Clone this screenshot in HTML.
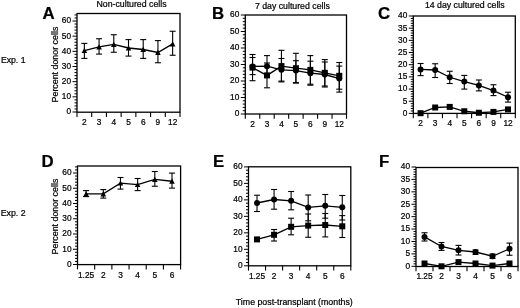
<!DOCTYPE html>
<html><head><meta charset="utf-8"><style>
html,body{margin:0;padding:0;background:#fff;}
svg{display:block;will-change:transform;}
text{font-family:"Liberation Sans", sans-serif;fill:#000;stroke:#000;stroke-width:0.22px;}
</style></head><body>
<svg width="520" height="308" viewBox="0 0 520 308">
<rect width="520" height="308" fill="#fff"/>
<rect x="77" y="13.5" width="103" height="98.7" fill="none" stroke="#000" stroke-width="1.3"/>
<line x1="72.50" y1="112.00" x2="77" y2="112.00" stroke="#000" stroke-width="1"/>
<text x="71.00" y="114.40" font-size="8.3" text-anchor="end">0</text>
<line x1="74.50" y1="108.97" x2="77" y2="108.97" stroke="#000" stroke-width="1"/>
<line x1="74.50" y1="105.93" x2="77" y2="105.93" stroke="#000" stroke-width="1"/>
<line x1="74.50" y1="102.90" x2="77" y2="102.90" stroke="#000" stroke-width="1"/>
<line x1="74.50" y1="99.87" x2="77" y2="99.87" stroke="#000" stroke-width="1"/>
<line x1="72.50" y1="96.83" x2="77" y2="96.83" stroke="#000" stroke-width="1"/>
<text x="71.00" y="99.23" font-size="8.3" text-anchor="end">10</text>
<line x1="74.50" y1="93.80" x2="77" y2="93.80" stroke="#000" stroke-width="1"/>
<line x1="74.50" y1="90.77" x2="77" y2="90.77" stroke="#000" stroke-width="1"/>
<line x1="74.50" y1="87.73" x2="77" y2="87.73" stroke="#000" stroke-width="1"/>
<line x1="74.50" y1="84.70" x2="77" y2="84.70" stroke="#000" stroke-width="1"/>
<line x1="72.50" y1="81.67" x2="77" y2="81.67" stroke="#000" stroke-width="1"/>
<text x="71.00" y="84.07" font-size="8.3" text-anchor="end">20</text>
<line x1="74.50" y1="78.63" x2="77" y2="78.63" stroke="#000" stroke-width="1"/>
<line x1="74.50" y1="75.60" x2="77" y2="75.60" stroke="#000" stroke-width="1"/>
<line x1="74.50" y1="72.57" x2="77" y2="72.57" stroke="#000" stroke-width="1"/>
<line x1="74.50" y1="69.53" x2="77" y2="69.53" stroke="#000" stroke-width="1"/>
<line x1="72.50" y1="66.50" x2="77" y2="66.50" stroke="#000" stroke-width="1"/>
<text x="71.00" y="68.90" font-size="8.3" text-anchor="end">30</text>
<line x1="74.50" y1="63.47" x2="77" y2="63.47" stroke="#000" stroke-width="1"/>
<line x1="74.50" y1="60.43" x2="77" y2="60.43" stroke="#000" stroke-width="1"/>
<line x1="74.50" y1="57.40" x2="77" y2="57.40" stroke="#000" stroke-width="1"/>
<line x1="74.50" y1="54.37" x2="77" y2="54.37" stroke="#000" stroke-width="1"/>
<line x1="72.50" y1="51.33" x2="77" y2="51.33" stroke="#000" stroke-width="1"/>
<text x="71.00" y="53.73" font-size="8.3" text-anchor="end">40</text>
<line x1="74.50" y1="48.30" x2="77" y2="48.30" stroke="#000" stroke-width="1"/>
<line x1="74.50" y1="45.27" x2="77" y2="45.27" stroke="#000" stroke-width="1"/>
<line x1="74.50" y1="42.23" x2="77" y2="42.23" stroke="#000" stroke-width="1"/>
<line x1="74.50" y1="39.20" x2="77" y2="39.20" stroke="#000" stroke-width="1"/>
<line x1="72.50" y1="36.17" x2="77" y2="36.17" stroke="#000" stroke-width="1"/>
<text x="71.00" y="38.57" font-size="8.3" text-anchor="end">50</text>
<line x1="74.50" y1="33.13" x2="77" y2="33.13" stroke="#000" stroke-width="1"/>
<line x1="74.50" y1="30.10" x2="77" y2="30.10" stroke="#000" stroke-width="1"/>
<line x1="74.50" y1="27.07" x2="77" y2="27.07" stroke="#000" stroke-width="1"/>
<line x1="74.50" y1="24.03" x2="77" y2="24.03" stroke="#000" stroke-width="1"/>
<line x1="72.50" y1="21.00" x2="77" y2="21.00" stroke="#000" stroke-width="1"/>
<text x="71.00" y="23.40" font-size="8.3" text-anchor="end">60</text>
<line x1="74.50" y1="17.97" x2="77" y2="17.97" stroke="#000" stroke-width="1"/>
<line x1="74.50" y1="14.93" x2="77" y2="14.93" stroke="#000" stroke-width="1"/>
<line x1="77.00" y1="112.2" x2="77.00" y2="117.0" stroke="#000" stroke-width="1.1"/>
<line x1="91.71" y1="112.2" x2="91.71" y2="117.0" stroke="#000" stroke-width="1.1"/>
<line x1="106.43" y1="112.2" x2="106.43" y2="117.0" stroke="#000" stroke-width="1.1"/>
<line x1="121.14" y1="112.2" x2="121.14" y2="117.0" stroke="#000" stroke-width="1.1"/>
<line x1="135.86" y1="112.2" x2="135.86" y2="117.0" stroke="#000" stroke-width="1.1"/>
<line x1="150.57" y1="112.2" x2="150.57" y2="117.0" stroke="#000" stroke-width="1.1"/>
<line x1="165.29" y1="112.2" x2="165.29" y2="117.0" stroke="#000" stroke-width="1.1"/>
<line x1="180.00" y1="112.2" x2="180.00" y2="117.0" stroke="#000" stroke-width="1.1"/>
<text x="84.36" y="125.10" font-size="8.3" text-anchor="middle">2</text>
<text x="99.07" y="125.10" font-size="8.3" text-anchor="middle">3</text>
<text x="113.79" y="125.10" font-size="8.3" text-anchor="middle">4</text>
<text x="128.50" y="125.10" font-size="8.3" text-anchor="middle">5</text>
<text x="143.21" y="125.10" font-size="8.3" text-anchor="middle">6</text>
<text x="157.93" y="125.10" font-size="8.3" text-anchor="middle">9</text>
<text x="172.64" y="125.10" font-size="8.3" text-anchor="middle">12</text>
<line x1="84.36" y1="43.4" x2="84.36" y2="58.4" stroke="#000" stroke-width="1.1"/>
<line x1="81.36" y1="43.4" x2="87.36" y2="43.4" stroke="#000" stroke-width="1.1"/>
<line x1="81.36" y1="58.4" x2="87.36" y2="58.4" stroke="#000" stroke-width="1.1"/>
<line x1="99.07" y1="38.75" x2="99.07" y2="54.1" stroke="#000" stroke-width="1.1"/>
<line x1="96.07" y1="38.75" x2="102.07" y2="38.75" stroke="#000" stroke-width="1.1"/>
<line x1="96.07" y1="54.1" x2="102.07" y2="54.1" stroke="#000" stroke-width="1.1"/>
<line x1="113.79" y1="34.75" x2="113.79" y2="52.25" stroke="#000" stroke-width="1.1"/>
<line x1="110.79" y1="34.75" x2="116.79" y2="34.75" stroke="#000" stroke-width="1.1"/>
<line x1="110.79" y1="52.25" x2="116.79" y2="52.25" stroke="#000" stroke-width="1.1"/>
<line x1="128.50" y1="39.6" x2="128.50" y2="56.1" stroke="#000" stroke-width="1.1"/>
<line x1="125.50" y1="39.6" x2="131.50" y2="39.6" stroke="#000" stroke-width="1.1"/>
<line x1="125.50" y1="56.1" x2="131.50" y2="56.1" stroke="#000" stroke-width="1.1"/>
<line x1="143.21" y1="39.6" x2="143.21" y2="58.4" stroke="#000" stroke-width="1.1"/>
<line x1="140.21" y1="39.6" x2="146.21" y2="39.6" stroke="#000" stroke-width="1.1"/>
<line x1="140.21" y1="58.4" x2="146.21" y2="58.4" stroke="#000" stroke-width="1.1"/>
<line x1="157.93" y1="40.6" x2="157.93" y2="62.75" stroke="#000" stroke-width="1.1"/>
<line x1="154.93" y1="40.6" x2="160.93" y2="40.6" stroke="#000" stroke-width="1.1"/>
<line x1="154.93" y1="62.75" x2="160.93" y2="62.75" stroke="#000" stroke-width="1.1"/>
<line x1="172.64" y1="31.25" x2="172.64" y2="55.25" stroke="#000" stroke-width="1.1"/>
<line x1="169.64" y1="31.25" x2="175.64" y2="31.25" stroke="#000" stroke-width="1.1"/>
<line x1="169.64" y1="55.25" x2="175.64" y2="55.25" stroke="#000" stroke-width="1.1"/>
<polyline points="84.36,50.6 99.07,46.9 113.79,44.4 128.50,48.0 143.21,49.5 157.93,52.5 172.64,43.9" fill="none" stroke="#000" stroke-width="1.3"/>
<polygon points="84.36,47.90 87.16,53.10 81.56,53.10" fill="#000"/>
<polygon points="99.07,44.20 101.87,49.40 96.27,49.40" fill="#000"/>
<polygon points="113.79,41.70 116.59,46.90 110.99,46.90" fill="#000"/>
<polygon points="128.50,45.30 131.30,50.50 125.70,50.50" fill="#000"/>
<polygon points="143.21,46.80 146.01,52.00 140.41,52.00" fill="#000"/>
<polygon points="157.93,49.80 160.73,55.00 155.13,55.00" fill="#000"/>
<polygon points="172.64,41.20 175.44,46.40 169.84,46.40" fill="#000"/>
<rect x="245.3" y="15.0" width="101.19999999999999" height="99.0" fill="none" stroke="#000" stroke-width="1.3"/>
<line x1="240.80" y1="114.00" x2="245.3" y2="114.00" stroke="#000" stroke-width="1"/>
<text x="239.30" y="116.40" font-size="8.3" text-anchor="end">0</text>
<line x1="242.80" y1="110.70" x2="245.3" y2="110.70" stroke="#000" stroke-width="1"/>
<line x1="242.80" y1="107.40" x2="245.3" y2="107.40" stroke="#000" stroke-width="1"/>
<line x1="242.80" y1="104.10" x2="245.3" y2="104.10" stroke="#000" stroke-width="1"/>
<line x1="242.80" y1="100.80" x2="245.3" y2="100.80" stroke="#000" stroke-width="1"/>
<line x1="240.80" y1="97.50" x2="245.3" y2="97.50" stroke="#000" stroke-width="1"/>
<text x="239.30" y="99.90" font-size="8.3" text-anchor="end">10</text>
<line x1="242.80" y1="94.20" x2="245.3" y2="94.20" stroke="#000" stroke-width="1"/>
<line x1="242.80" y1="90.90" x2="245.3" y2="90.90" stroke="#000" stroke-width="1"/>
<line x1="242.80" y1="87.60" x2="245.3" y2="87.60" stroke="#000" stroke-width="1"/>
<line x1="242.80" y1="84.30" x2="245.3" y2="84.30" stroke="#000" stroke-width="1"/>
<line x1="240.80" y1="81.00" x2="245.3" y2="81.00" stroke="#000" stroke-width="1"/>
<text x="239.30" y="83.40" font-size="8.3" text-anchor="end">20</text>
<line x1="242.80" y1="77.70" x2="245.3" y2="77.70" stroke="#000" stroke-width="1"/>
<line x1="242.80" y1="74.40" x2="245.3" y2="74.40" stroke="#000" stroke-width="1"/>
<line x1="242.80" y1="71.10" x2="245.3" y2="71.10" stroke="#000" stroke-width="1"/>
<line x1="242.80" y1="67.80" x2="245.3" y2="67.80" stroke="#000" stroke-width="1"/>
<line x1="240.80" y1="64.50" x2="245.3" y2="64.50" stroke="#000" stroke-width="1"/>
<text x="239.30" y="66.90" font-size="8.3" text-anchor="end">30</text>
<line x1="242.80" y1="61.20" x2="245.3" y2="61.20" stroke="#000" stroke-width="1"/>
<line x1="242.80" y1="57.90" x2="245.3" y2="57.90" stroke="#000" stroke-width="1"/>
<line x1="242.80" y1="54.60" x2="245.3" y2="54.60" stroke="#000" stroke-width="1"/>
<line x1="242.80" y1="51.30" x2="245.3" y2="51.30" stroke="#000" stroke-width="1"/>
<line x1="240.80" y1="48.00" x2="245.3" y2="48.00" stroke="#000" stroke-width="1"/>
<text x="239.30" y="50.40" font-size="8.3" text-anchor="end">40</text>
<line x1="242.80" y1="44.70" x2="245.3" y2="44.70" stroke="#000" stroke-width="1"/>
<line x1="242.80" y1="41.40" x2="245.3" y2="41.40" stroke="#000" stroke-width="1"/>
<line x1="242.80" y1="38.10" x2="245.3" y2="38.10" stroke="#000" stroke-width="1"/>
<line x1="242.80" y1="34.80" x2="245.3" y2="34.80" stroke="#000" stroke-width="1"/>
<line x1="240.80" y1="31.50" x2="245.3" y2="31.50" stroke="#000" stroke-width="1"/>
<text x="239.30" y="33.90" font-size="8.3" text-anchor="end">50</text>
<line x1="242.80" y1="28.20" x2="245.3" y2="28.20" stroke="#000" stroke-width="1"/>
<line x1="242.80" y1="24.90" x2="245.3" y2="24.90" stroke="#000" stroke-width="1"/>
<line x1="242.80" y1="21.60" x2="245.3" y2="21.60" stroke="#000" stroke-width="1"/>
<line x1="242.80" y1="18.30" x2="245.3" y2="18.30" stroke="#000" stroke-width="1"/>
<line x1="240.80" y1="15.00" x2="245.3" y2="15.00" stroke="#000" stroke-width="1"/>
<text x="239.30" y="17.40" font-size="8.3" text-anchor="end">60</text>
<line x1="245.30" y1="114.0" x2="245.30" y2="118.8" stroke="#000" stroke-width="1.1"/>
<line x1="259.76" y1="114.0" x2="259.76" y2="118.8" stroke="#000" stroke-width="1.1"/>
<line x1="274.21" y1="114.0" x2="274.21" y2="118.8" stroke="#000" stroke-width="1.1"/>
<line x1="288.67" y1="114.0" x2="288.67" y2="118.8" stroke="#000" stroke-width="1.1"/>
<line x1="303.13" y1="114.0" x2="303.13" y2="118.8" stroke="#000" stroke-width="1.1"/>
<line x1="317.59" y1="114.0" x2="317.59" y2="118.8" stroke="#000" stroke-width="1.1"/>
<line x1="332.04" y1="114.0" x2="332.04" y2="118.8" stroke="#000" stroke-width="1.1"/>
<line x1="346.50" y1="114.0" x2="346.50" y2="118.8" stroke="#000" stroke-width="1.1"/>
<text x="252.53" y="126.90" font-size="8.3" text-anchor="middle">2</text>
<text x="266.99" y="126.90" font-size="8.3" text-anchor="middle">3</text>
<text x="281.44" y="126.90" font-size="8.3" text-anchor="middle">4</text>
<text x="295.90" y="126.90" font-size="8.3" text-anchor="middle">5</text>
<text x="310.36" y="126.90" font-size="8.3" text-anchor="middle">6</text>
<text x="324.81" y="126.90" font-size="8.3" text-anchor="middle">9</text>
<text x="339.27" y="126.90" font-size="8.3" text-anchor="middle">12</text>
<line x1="252.53" y1="54.5" x2="252.53" y2="80.7" stroke="#000" stroke-width="1.1"/>
<line x1="249.53" y1="54.5" x2="255.53" y2="54.5" stroke="#000" stroke-width="1.1"/>
<line x1="249.53" y1="80.7" x2="255.53" y2="80.7" stroke="#000" stroke-width="1.1"/>
<line x1="266.99" y1="63.0" x2="266.99" y2="87.8" stroke="#000" stroke-width="1.1"/>
<line x1="263.99" y1="63.0" x2="269.99" y2="63.0" stroke="#000" stroke-width="1.1"/>
<line x1="263.99" y1="87.8" x2="269.99" y2="87.8" stroke="#000" stroke-width="1.1"/>
<line x1="281.44" y1="50.3" x2="281.44" y2="81.9" stroke="#000" stroke-width="1.1"/>
<line x1="278.44" y1="50.3" x2="284.44" y2="50.3" stroke="#000" stroke-width="1.1"/>
<line x1="278.44" y1="81.9" x2="284.44" y2="81.9" stroke="#000" stroke-width="1.1"/>
<line x1="295.90" y1="53.3" x2="295.90" y2="83.1" stroke="#000" stroke-width="1.1"/>
<line x1="292.90" y1="53.3" x2="298.90" y2="53.3" stroke="#000" stroke-width="1.1"/>
<line x1="292.90" y1="83.1" x2="298.90" y2="83.1" stroke="#000" stroke-width="1.1"/>
<line x1="310.36" y1="55.6" x2="310.36" y2="84.2" stroke="#000" stroke-width="1.1"/>
<line x1="307.36" y1="55.6" x2="313.36" y2="55.6" stroke="#000" stroke-width="1.1"/>
<line x1="307.36" y1="84.2" x2="313.36" y2="84.2" stroke="#000" stroke-width="1.1"/>
<line x1="324.81" y1="59.6" x2="324.81" y2="86.0" stroke="#000" stroke-width="1.1"/>
<line x1="321.81" y1="59.6" x2="327.81" y2="59.6" stroke="#000" stroke-width="1.1"/>
<line x1="321.81" y1="86.0" x2="327.81" y2="86.0" stroke="#000" stroke-width="1.1"/>
<line x1="339.27" y1="62.5" x2="339.27" y2="89.2" stroke="#000" stroke-width="1.1"/>
<line x1="336.27" y1="62.5" x2="342.27" y2="62.5" stroke="#000" stroke-width="1.1"/>
<line x1="336.27" y1="89.2" x2="342.27" y2="89.2" stroke="#000" stroke-width="1.1"/>
<line x1="252.53" y1="57.5" x2="252.53" y2="74.6" stroke="#000" stroke-width="1.1"/>
<line x1="249.53" y1="57.5" x2="255.53" y2="57.5" stroke="#000" stroke-width="1.1"/>
<line x1="249.53" y1="74.6" x2="255.53" y2="74.6" stroke="#000" stroke-width="1.1"/>
<line x1="266.99" y1="55.6" x2="266.99" y2="76.8" stroke="#000" stroke-width="1.1"/>
<line x1="263.99" y1="55.6" x2="269.99" y2="55.6" stroke="#000" stroke-width="1.1"/>
<line x1="263.99" y1="76.8" x2="269.99" y2="76.8" stroke="#000" stroke-width="1.1"/>
<line x1="281.44" y1="58.5" x2="281.44" y2="81.1" stroke="#000" stroke-width="1.1"/>
<line x1="278.44" y1="58.5" x2="284.44" y2="58.5" stroke="#000" stroke-width="1.1"/>
<line x1="278.44" y1="81.1" x2="284.44" y2="81.1" stroke="#000" stroke-width="1.1"/>
<line x1="295.90" y1="60.7" x2="295.90" y2="82.6" stroke="#000" stroke-width="1.1"/>
<line x1="292.90" y1="60.7" x2="298.90" y2="60.7" stroke="#000" stroke-width="1.1"/>
<line x1="292.90" y1="82.6" x2="298.90" y2="82.6" stroke="#000" stroke-width="1.1"/>
<line x1="310.36" y1="61.2" x2="310.36" y2="85.2" stroke="#000" stroke-width="1.1"/>
<line x1="307.36" y1="61.2" x2="313.36" y2="61.2" stroke="#000" stroke-width="1.1"/>
<line x1="307.36" y1="85.2" x2="313.36" y2="85.2" stroke="#000" stroke-width="1.1"/>
<line x1="324.81" y1="62.0" x2="324.81" y2="87.0" stroke="#000" stroke-width="1.1"/>
<line x1="321.81" y1="62.0" x2="327.81" y2="62.0" stroke="#000" stroke-width="1.1"/>
<line x1="321.81" y1="87.0" x2="327.81" y2="87.0" stroke="#000" stroke-width="1.1"/>
<line x1="339.27" y1="66.1" x2="339.27" y2="92.1" stroke="#000" stroke-width="1.1"/>
<line x1="336.27" y1="66.1" x2="342.27" y2="66.1" stroke="#000" stroke-width="1.1"/>
<line x1="336.27" y1="92.1" x2="342.27" y2="92.1" stroke="#000" stroke-width="1.1"/>
<polyline points="252.53,67.6 266.99,75.4 281.44,66.1 295.90,68.2 310.36,69.9 324.81,72.8 339.27,75.8" fill="none" stroke="#000" stroke-width="1.3"/>
<polyline points="252.53,66.5 266.99,66.2 281.44,69.8 295.90,70.6 310.36,73.2 324.81,74.5 339.27,78.6" fill="none" stroke="#000" stroke-width="1.3"/>
<rect x="249.53" y="64.60" width="6.0" height="6.0" fill="#000"/>
<rect x="263.99" y="72.40" width="6.0" height="6.0" fill="#000"/>
<rect x="278.44" y="63.10" width="6.0" height="6.0" fill="#000"/>
<rect x="292.90" y="65.20" width="6.0" height="6.0" fill="#000"/>
<rect x="307.36" y="66.90" width="6.0" height="6.0" fill="#000"/>
<rect x="321.81" y="69.80" width="6.0" height="6.0" fill="#000"/>
<rect x="336.27" y="72.80" width="6.0" height="6.0" fill="#000"/>
<circle cx="252.53" cy="66.5" r="3.00" fill="#000"/>
<circle cx="266.99" cy="66.2" r="3.00" fill="#000"/>
<circle cx="281.44" cy="69.8" r="3.00" fill="#000"/>
<circle cx="295.90" cy="70.6" r="3.00" fill="#000"/>
<circle cx="310.36" cy="73.2" r="3.00" fill="#000"/>
<circle cx="324.81" cy="74.5" r="3.00" fill="#000"/>
<circle cx="339.27" cy="78.6" r="3.00" fill="#000"/>
<rect x="413.3" y="16.0" width="101.99999999999994" height="97.4" fill="none" stroke="#000" stroke-width="1.3"/>
<line x1="408.80" y1="113.40" x2="413.3" y2="113.40" stroke="#000" stroke-width="1"/>
<text x="407.30" y="115.80" font-size="8.3" text-anchor="end">0</text>
<line x1="410.80" y1="110.97" x2="413.3" y2="110.97" stroke="#000" stroke-width="1"/>
<line x1="410.80" y1="108.53" x2="413.3" y2="108.53" stroke="#000" stroke-width="1"/>
<line x1="410.80" y1="106.09" x2="413.3" y2="106.09" stroke="#000" stroke-width="1"/>
<line x1="410.80" y1="103.66" x2="413.3" y2="103.66" stroke="#000" stroke-width="1"/>
<line x1="408.80" y1="101.23" x2="413.3" y2="101.23" stroke="#000" stroke-width="1"/>
<text x="407.30" y="103.63" font-size="8.3" text-anchor="end">5</text>
<line x1="410.80" y1="98.79" x2="413.3" y2="98.79" stroke="#000" stroke-width="1"/>
<line x1="410.80" y1="96.36" x2="413.3" y2="96.36" stroke="#000" stroke-width="1"/>
<line x1="410.80" y1="93.92" x2="413.3" y2="93.92" stroke="#000" stroke-width="1"/>
<line x1="410.80" y1="91.49" x2="413.3" y2="91.49" stroke="#000" stroke-width="1"/>
<line x1="408.80" y1="89.05" x2="413.3" y2="89.05" stroke="#000" stroke-width="1"/>
<text x="407.30" y="91.45" font-size="8.3" text-anchor="end">10</text>
<line x1="410.80" y1="86.62" x2="413.3" y2="86.62" stroke="#000" stroke-width="1"/>
<line x1="410.80" y1="84.18" x2="413.3" y2="84.18" stroke="#000" stroke-width="1"/>
<line x1="410.80" y1="81.75" x2="413.3" y2="81.75" stroke="#000" stroke-width="1"/>
<line x1="410.80" y1="79.31" x2="413.3" y2="79.31" stroke="#000" stroke-width="1"/>
<line x1="408.80" y1="76.88" x2="413.3" y2="76.88" stroke="#000" stroke-width="1"/>
<text x="407.30" y="79.28" font-size="8.3" text-anchor="end">15</text>
<line x1="410.80" y1="74.44" x2="413.3" y2="74.44" stroke="#000" stroke-width="1"/>
<line x1="410.80" y1="72.00" x2="413.3" y2="72.00" stroke="#000" stroke-width="1"/>
<line x1="410.80" y1="69.57" x2="413.3" y2="69.57" stroke="#000" stroke-width="1"/>
<line x1="410.80" y1="67.14" x2="413.3" y2="67.14" stroke="#000" stroke-width="1"/>
<line x1="408.80" y1="64.70" x2="413.3" y2="64.70" stroke="#000" stroke-width="1"/>
<text x="407.30" y="67.10" font-size="8.3" text-anchor="end">20</text>
<line x1="410.80" y1="62.27" x2="413.3" y2="62.27" stroke="#000" stroke-width="1"/>
<line x1="410.80" y1="59.83" x2="413.3" y2="59.83" stroke="#000" stroke-width="1"/>
<line x1="410.80" y1="57.40" x2="413.3" y2="57.40" stroke="#000" stroke-width="1"/>
<line x1="410.80" y1="54.96" x2="413.3" y2="54.96" stroke="#000" stroke-width="1"/>
<line x1="408.80" y1="52.53" x2="413.3" y2="52.53" stroke="#000" stroke-width="1"/>
<text x="407.30" y="54.93" font-size="8.3" text-anchor="end">25</text>
<line x1="410.80" y1="50.09" x2="413.3" y2="50.09" stroke="#000" stroke-width="1"/>
<line x1="410.80" y1="47.66" x2="413.3" y2="47.66" stroke="#000" stroke-width="1"/>
<line x1="410.80" y1="45.22" x2="413.3" y2="45.22" stroke="#000" stroke-width="1"/>
<line x1="410.80" y1="42.79" x2="413.3" y2="42.79" stroke="#000" stroke-width="1"/>
<line x1="408.80" y1="40.35" x2="413.3" y2="40.35" stroke="#000" stroke-width="1"/>
<text x="407.30" y="42.75" font-size="8.3" text-anchor="end">30</text>
<line x1="410.80" y1="37.92" x2="413.3" y2="37.92" stroke="#000" stroke-width="1"/>
<line x1="410.80" y1="35.48" x2="413.3" y2="35.48" stroke="#000" stroke-width="1"/>
<line x1="410.80" y1="33.05" x2="413.3" y2="33.05" stroke="#000" stroke-width="1"/>
<line x1="410.80" y1="30.61" x2="413.3" y2="30.61" stroke="#000" stroke-width="1"/>
<line x1="408.80" y1="28.17" x2="413.3" y2="28.17" stroke="#000" stroke-width="1"/>
<text x="407.30" y="30.57" font-size="8.3" text-anchor="end">35</text>
<line x1="410.80" y1="25.74" x2="413.3" y2="25.74" stroke="#000" stroke-width="1"/>
<line x1="410.80" y1="23.31" x2="413.3" y2="23.31" stroke="#000" stroke-width="1"/>
<line x1="410.80" y1="20.87" x2="413.3" y2="20.87" stroke="#000" stroke-width="1"/>
<line x1="410.80" y1="18.44" x2="413.3" y2="18.44" stroke="#000" stroke-width="1"/>
<line x1="408.80" y1="16.00" x2="413.3" y2="16.00" stroke="#000" stroke-width="1"/>
<text x="407.30" y="18.40" font-size="8.3" text-anchor="end">40</text>
<line x1="413.30" y1="113.4" x2="413.30" y2="118.2" stroke="#000" stroke-width="1.1"/>
<line x1="427.87" y1="113.4" x2="427.87" y2="118.2" stroke="#000" stroke-width="1.1"/>
<line x1="442.44" y1="113.4" x2="442.44" y2="118.2" stroke="#000" stroke-width="1.1"/>
<line x1="457.01" y1="113.4" x2="457.01" y2="118.2" stroke="#000" stroke-width="1.1"/>
<line x1="471.59" y1="113.4" x2="471.59" y2="118.2" stroke="#000" stroke-width="1.1"/>
<line x1="486.16" y1="113.4" x2="486.16" y2="118.2" stroke="#000" stroke-width="1.1"/>
<line x1="500.73" y1="113.4" x2="500.73" y2="118.2" stroke="#000" stroke-width="1.1"/>
<line x1="515.30" y1="113.4" x2="515.30" y2="118.2" stroke="#000" stroke-width="1.1"/>
<text x="420.59" y="126.30" font-size="8.3" text-anchor="middle">2</text>
<text x="435.16" y="126.30" font-size="8.3" text-anchor="middle">3</text>
<text x="449.73" y="126.30" font-size="8.3" text-anchor="middle">4</text>
<text x="464.30" y="126.30" font-size="8.3" text-anchor="middle">5</text>
<text x="478.87" y="126.30" font-size="8.3" text-anchor="middle">6</text>
<text x="493.44" y="126.30" font-size="8.3" text-anchor="middle">9</text>
<text x="508.01" y="126.30" font-size="8.3" text-anchor="middle">12</text>
<line x1="420.59" y1="63.5" x2="420.59" y2="75.6" stroke="#000" stroke-width="1.1"/>
<line x1="417.59" y1="63.5" x2="423.59" y2="63.5" stroke="#000" stroke-width="1.1"/>
<line x1="417.59" y1="75.6" x2="423.59" y2="75.6" stroke="#000" stroke-width="1.1"/>
<line x1="435.16" y1="63.75" x2="435.16" y2="77.5" stroke="#000" stroke-width="1.1"/>
<line x1="432.16" y1="63.75" x2="438.16" y2="63.75" stroke="#000" stroke-width="1.1"/>
<line x1="432.16" y1="77.5" x2="438.16" y2="77.5" stroke="#000" stroke-width="1.1"/>
<line x1="449.73" y1="71.25" x2="449.73" y2="83.5" stroke="#000" stroke-width="1.1"/>
<line x1="446.73" y1="71.25" x2="452.73" y2="71.25" stroke="#000" stroke-width="1.1"/>
<line x1="446.73" y1="83.5" x2="452.73" y2="83.5" stroke="#000" stroke-width="1.1"/>
<line x1="464.30" y1="75.4" x2="464.30" y2="89.1" stroke="#000" stroke-width="1.1"/>
<line x1="461.30" y1="75.4" x2="467.30" y2="75.4" stroke="#000" stroke-width="1.1"/>
<line x1="461.30" y1="89.1" x2="467.30" y2="89.1" stroke="#000" stroke-width="1.1"/>
<line x1="478.87" y1="80.0" x2="478.87" y2="90.9" stroke="#000" stroke-width="1.1"/>
<line x1="475.87" y1="80.0" x2="481.87" y2="80.0" stroke="#000" stroke-width="1.1"/>
<line x1="475.87" y1="90.9" x2="481.87" y2="90.9" stroke="#000" stroke-width="1.1"/>
<line x1="493.44" y1="84.75" x2="493.44" y2="95.6" stroke="#000" stroke-width="1.1"/>
<line x1="490.44" y1="84.75" x2="496.44" y2="84.75" stroke="#000" stroke-width="1.1"/>
<line x1="490.44" y1="95.6" x2="496.44" y2="95.6" stroke="#000" stroke-width="1.1"/>
<line x1="508.01" y1="92.25" x2="508.01" y2="102.1" stroke="#000" stroke-width="1.1"/>
<line x1="505.01" y1="92.25" x2="511.01" y2="92.25" stroke="#000" stroke-width="1.1"/>
<line x1="505.01" y1="102.1" x2="511.01" y2="102.1" stroke="#000" stroke-width="1.1"/>
<polyline points="420.59,69.4 435.16,70.0 449.73,77.25 464.30,81.6 478.87,85.4 493.44,90.6 508.01,97.25" fill="none" stroke="#000" stroke-width="1.3"/>
<polyline points="420.59,113.2 435.16,107.5 449.73,106.9 464.30,111.25 478.87,112.75 493.44,111.9 508.01,109.4" fill="none" stroke="#000" stroke-width="1.3"/>
<circle cx="420.59" cy="69.4" r="3.00" fill="#000"/>
<circle cx="435.16" cy="70.0" r="3.00" fill="#000"/>
<circle cx="449.73" cy="77.25" r="3.00" fill="#000"/>
<circle cx="464.30" cy="81.6" r="3.00" fill="#000"/>
<circle cx="478.87" cy="85.4" r="3.00" fill="#000"/>
<circle cx="493.44" cy="90.6" r="3.00" fill="#000"/>
<circle cx="508.01" cy="97.25" r="3.00" fill="#000"/>
<rect x="417.59" y="110.20" width="6.0" height="6.0" fill="#000"/>
<rect x="432.16" y="104.50" width="6.0" height="6.0" fill="#000"/>
<rect x="446.73" y="103.90" width="6.0" height="6.0" fill="#000"/>
<rect x="461.30" y="108.25" width="6.0" height="6.0" fill="#000"/>
<rect x="475.87" y="109.75" width="6.0" height="6.0" fill="#000"/>
<rect x="490.44" y="108.90" width="6.0" height="6.0" fill="#000"/>
<rect x="505.01" y="106.40" width="6.0" height="6.0" fill="#000"/>
<rect x="77.5" y="166.0" width="103.1" height="98.60000000000002" fill="none" stroke="#000" stroke-width="1.3"/>
<line x1="73.00" y1="264.50" x2="77.5" y2="264.50" stroke="#000" stroke-width="1"/>
<text x="71.50" y="266.90" font-size="8.3" text-anchor="end">0</text>
<line x1="75.00" y1="261.45" x2="77.5" y2="261.45" stroke="#000" stroke-width="1"/>
<line x1="75.00" y1="258.40" x2="77.5" y2="258.40" stroke="#000" stroke-width="1"/>
<line x1="75.00" y1="255.35" x2="77.5" y2="255.35" stroke="#000" stroke-width="1"/>
<line x1="75.00" y1="252.30" x2="77.5" y2="252.30" stroke="#000" stroke-width="1"/>
<line x1="73.00" y1="249.25" x2="77.5" y2="249.25" stroke="#000" stroke-width="1"/>
<text x="71.50" y="251.65" font-size="8.3" text-anchor="end">10</text>
<line x1="75.00" y1="246.20" x2="77.5" y2="246.20" stroke="#000" stroke-width="1"/>
<line x1="75.00" y1="243.15" x2="77.5" y2="243.15" stroke="#000" stroke-width="1"/>
<line x1="75.00" y1="240.10" x2="77.5" y2="240.10" stroke="#000" stroke-width="1"/>
<line x1="75.00" y1="237.05" x2="77.5" y2="237.05" stroke="#000" stroke-width="1"/>
<line x1="73.00" y1="234.00" x2="77.5" y2="234.00" stroke="#000" stroke-width="1"/>
<text x="71.50" y="236.40" font-size="8.3" text-anchor="end">20</text>
<line x1="75.00" y1="230.95" x2="77.5" y2="230.95" stroke="#000" stroke-width="1"/>
<line x1="75.00" y1="227.90" x2="77.5" y2="227.90" stroke="#000" stroke-width="1"/>
<line x1="75.00" y1="224.85" x2="77.5" y2="224.85" stroke="#000" stroke-width="1"/>
<line x1="75.00" y1="221.80" x2="77.5" y2="221.80" stroke="#000" stroke-width="1"/>
<line x1="73.00" y1="218.75" x2="77.5" y2="218.75" stroke="#000" stroke-width="1"/>
<text x="71.50" y="221.15" font-size="8.3" text-anchor="end">30</text>
<line x1="75.00" y1="215.70" x2="77.5" y2="215.70" stroke="#000" stroke-width="1"/>
<line x1="75.00" y1="212.65" x2="77.5" y2="212.65" stroke="#000" stroke-width="1"/>
<line x1="75.00" y1="209.60" x2="77.5" y2="209.60" stroke="#000" stroke-width="1"/>
<line x1="75.00" y1="206.55" x2="77.5" y2="206.55" stroke="#000" stroke-width="1"/>
<line x1="73.00" y1="203.50" x2="77.5" y2="203.50" stroke="#000" stroke-width="1"/>
<text x="71.50" y="205.90" font-size="8.3" text-anchor="end">40</text>
<line x1="75.00" y1="200.45" x2="77.5" y2="200.45" stroke="#000" stroke-width="1"/>
<line x1="75.00" y1="197.40" x2="77.5" y2="197.40" stroke="#000" stroke-width="1"/>
<line x1="75.00" y1="194.35" x2="77.5" y2="194.35" stroke="#000" stroke-width="1"/>
<line x1="75.00" y1="191.30" x2="77.5" y2="191.30" stroke="#000" stroke-width="1"/>
<line x1="73.00" y1="188.25" x2="77.5" y2="188.25" stroke="#000" stroke-width="1"/>
<text x="71.50" y="190.65" font-size="8.3" text-anchor="end">50</text>
<line x1="75.00" y1="185.20" x2="77.5" y2="185.20" stroke="#000" stroke-width="1"/>
<line x1="75.00" y1="182.15" x2="77.5" y2="182.15" stroke="#000" stroke-width="1"/>
<line x1="75.00" y1="179.10" x2="77.5" y2="179.10" stroke="#000" stroke-width="1"/>
<line x1="75.00" y1="176.05" x2="77.5" y2="176.05" stroke="#000" stroke-width="1"/>
<line x1="73.00" y1="173.00" x2="77.5" y2="173.00" stroke="#000" stroke-width="1"/>
<text x="71.50" y="175.40" font-size="8.3" text-anchor="end">60</text>
<line x1="75.00" y1="169.95" x2="77.5" y2="169.95" stroke="#000" stroke-width="1"/>
<line x1="75.00" y1="166.90" x2="77.5" y2="166.90" stroke="#000" stroke-width="1"/>
<line x1="77.50" y1="264.6" x2="77.50" y2="269.40000000000003" stroke="#000" stroke-width="1.1"/>
<line x1="94.68" y1="264.6" x2="94.68" y2="269.40000000000003" stroke="#000" stroke-width="1.1"/>
<line x1="111.87" y1="264.6" x2="111.87" y2="269.40000000000003" stroke="#000" stroke-width="1.1"/>
<line x1="129.05" y1="264.6" x2="129.05" y2="269.40000000000003" stroke="#000" stroke-width="1.1"/>
<line x1="146.23" y1="264.6" x2="146.23" y2="269.40000000000003" stroke="#000" stroke-width="1.1"/>
<line x1="163.42" y1="264.6" x2="163.42" y2="269.40000000000003" stroke="#000" stroke-width="1.1"/>
<line x1="180.60" y1="264.6" x2="180.60" y2="269.40000000000003" stroke="#000" stroke-width="1.1"/>
<text x="86.09" y="277.50" font-size="8.3" text-anchor="middle">1.25</text>
<text x="103.28" y="277.50" font-size="8.3" text-anchor="middle">2</text>
<text x="120.46" y="277.50" font-size="8.3" text-anchor="middle">3</text>
<text x="137.64" y="277.50" font-size="8.3" text-anchor="middle">4</text>
<text x="154.82" y="277.50" font-size="8.3" text-anchor="middle">5</text>
<text x="172.01" y="277.50" font-size="8.3" text-anchor="middle">6</text>
<line x1="86.09" y1="190.6" x2="86.09" y2="196.6" stroke="#000" stroke-width="1.1"/>
<line x1="83.09" y1="190.6" x2="89.09" y2="190.6" stroke="#000" stroke-width="1.1"/>
<line x1="83.09" y1="196.6" x2="89.09" y2="196.6" stroke="#000" stroke-width="1.1"/>
<line x1="103.28" y1="189.6" x2="103.28" y2="198.1" stroke="#000" stroke-width="1.1"/>
<line x1="100.28" y1="189.6" x2="106.28" y2="189.6" stroke="#000" stroke-width="1.1"/>
<line x1="100.28" y1="198.1" x2="106.28" y2="198.1" stroke="#000" stroke-width="1.1"/>
<line x1="120.46" y1="177.5" x2="120.46" y2="189.1" stroke="#000" stroke-width="1.1"/>
<line x1="117.46" y1="177.5" x2="123.46" y2="177.5" stroke="#000" stroke-width="1.1"/>
<line x1="117.46" y1="189.1" x2="123.46" y2="189.1" stroke="#000" stroke-width="1.1"/>
<line x1="137.64" y1="178.5" x2="137.64" y2="190.6" stroke="#000" stroke-width="1.1"/>
<line x1="134.64" y1="178.5" x2="140.64" y2="178.5" stroke="#000" stroke-width="1.1"/>
<line x1="134.64" y1="190.6" x2="140.64" y2="190.6" stroke="#000" stroke-width="1.1"/>
<line x1="154.82" y1="171.5" x2="154.82" y2="186.25" stroke="#000" stroke-width="1.1"/>
<line x1="151.82" y1="171.5" x2="157.82" y2="171.5" stroke="#000" stroke-width="1.1"/>
<line x1="151.82" y1="186.25" x2="157.82" y2="186.25" stroke="#000" stroke-width="1.1"/>
<line x1="172.01" y1="173.1" x2="172.01" y2="188.1" stroke="#000" stroke-width="1.1"/>
<line x1="169.01" y1="173.1" x2="175.01" y2="173.1" stroke="#000" stroke-width="1.1"/>
<line x1="169.01" y1="188.1" x2="175.01" y2="188.1" stroke="#000" stroke-width="1.1"/>
<polyline points="86.09,193.9 103.28,193.9 120.46,183.1 137.64,184.6 154.82,179.4 172.01,181.25" fill="none" stroke="#000" stroke-width="1.3"/>
<polygon points="86.09,191.20 88.89,196.40 83.29,196.40" fill="#000"/>
<polygon points="103.28,191.20 106.08,196.40 100.48,196.40" fill="#000"/>
<polygon points="120.46,180.40 123.26,185.60 117.66,185.60" fill="#000"/>
<polygon points="137.64,181.90 140.44,187.10 134.84,187.10" fill="#000"/>
<polygon points="154.82,176.70 157.62,181.90 152.02,181.90" fill="#000"/>
<polygon points="172.01,178.55 174.81,183.75 169.21,183.75" fill="#000"/>
<rect x="248.5" y="166.8" width="102.30000000000001" height="99.0" fill="none" stroke="#000" stroke-width="1.3"/>
<line x1="244.00" y1="265.80" x2="248.5" y2="265.80" stroke="#000" stroke-width="1"/>
<text x="242.50" y="268.20" font-size="8.3" text-anchor="end">0</text>
<line x1="246.00" y1="262.50" x2="248.5" y2="262.50" stroke="#000" stroke-width="1"/>
<line x1="246.00" y1="259.21" x2="248.5" y2="259.21" stroke="#000" stroke-width="1"/>
<line x1="246.00" y1="255.91" x2="248.5" y2="255.91" stroke="#000" stroke-width="1"/>
<line x1="246.00" y1="252.61" x2="248.5" y2="252.61" stroke="#000" stroke-width="1"/>
<line x1="244.00" y1="249.32" x2="248.5" y2="249.32" stroke="#000" stroke-width="1"/>
<text x="242.50" y="251.72" font-size="8.3" text-anchor="end">10</text>
<line x1="246.00" y1="246.02" x2="248.5" y2="246.02" stroke="#000" stroke-width="1"/>
<line x1="246.00" y1="242.72" x2="248.5" y2="242.72" stroke="#000" stroke-width="1"/>
<line x1="246.00" y1="239.43" x2="248.5" y2="239.43" stroke="#000" stroke-width="1"/>
<line x1="246.00" y1="236.13" x2="248.5" y2="236.13" stroke="#000" stroke-width="1"/>
<line x1="244.00" y1="232.83" x2="248.5" y2="232.83" stroke="#000" stroke-width="1"/>
<text x="242.50" y="235.23" font-size="8.3" text-anchor="end">20</text>
<line x1="246.00" y1="229.54" x2="248.5" y2="229.54" stroke="#000" stroke-width="1"/>
<line x1="246.00" y1="226.24" x2="248.5" y2="226.24" stroke="#000" stroke-width="1"/>
<line x1="246.00" y1="222.94" x2="248.5" y2="222.94" stroke="#000" stroke-width="1"/>
<line x1="246.00" y1="219.65" x2="248.5" y2="219.65" stroke="#000" stroke-width="1"/>
<line x1="244.00" y1="216.35" x2="248.5" y2="216.35" stroke="#000" stroke-width="1"/>
<text x="242.50" y="218.75" font-size="8.3" text-anchor="end">30</text>
<line x1="246.00" y1="213.05" x2="248.5" y2="213.05" stroke="#000" stroke-width="1"/>
<line x1="246.00" y1="209.76" x2="248.5" y2="209.76" stroke="#000" stroke-width="1"/>
<line x1="246.00" y1="206.46" x2="248.5" y2="206.46" stroke="#000" stroke-width="1"/>
<line x1="246.00" y1="203.16" x2="248.5" y2="203.16" stroke="#000" stroke-width="1"/>
<line x1="244.00" y1="199.87" x2="248.5" y2="199.87" stroke="#000" stroke-width="1"/>
<text x="242.50" y="202.27" font-size="8.3" text-anchor="end">40</text>
<line x1="246.00" y1="196.57" x2="248.5" y2="196.57" stroke="#000" stroke-width="1"/>
<line x1="246.00" y1="193.27" x2="248.5" y2="193.27" stroke="#000" stroke-width="1"/>
<line x1="246.00" y1="189.98" x2="248.5" y2="189.98" stroke="#000" stroke-width="1"/>
<line x1="246.00" y1="186.68" x2="248.5" y2="186.68" stroke="#000" stroke-width="1"/>
<line x1="244.00" y1="183.38" x2="248.5" y2="183.38" stroke="#000" stroke-width="1"/>
<text x="242.50" y="185.78" font-size="8.3" text-anchor="end">50</text>
<line x1="246.00" y1="180.09" x2="248.5" y2="180.09" stroke="#000" stroke-width="1"/>
<line x1="246.00" y1="176.79" x2="248.5" y2="176.79" stroke="#000" stroke-width="1"/>
<line x1="246.00" y1="173.49" x2="248.5" y2="173.49" stroke="#000" stroke-width="1"/>
<line x1="246.00" y1="170.20" x2="248.5" y2="170.20" stroke="#000" stroke-width="1"/>
<line x1="244.00" y1="166.90" x2="248.5" y2="166.90" stroke="#000" stroke-width="1"/>
<text x="242.50" y="169.30" font-size="8.3" text-anchor="end">60</text>
<line x1="248.50" y1="265.8" x2="248.50" y2="270.6" stroke="#000" stroke-width="1.1"/>
<line x1="265.55" y1="265.8" x2="265.55" y2="270.6" stroke="#000" stroke-width="1.1"/>
<line x1="282.60" y1="265.8" x2="282.60" y2="270.6" stroke="#000" stroke-width="1.1"/>
<line x1="299.65" y1="265.8" x2="299.65" y2="270.6" stroke="#000" stroke-width="1.1"/>
<line x1="316.70" y1="265.8" x2="316.70" y2="270.6" stroke="#000" stroke-width="1.1"/>
<line x1="333.75" y1="265.8" x2="333.75" y2="270.6" stroke="#000" stroke-width="1.1"/>
<line x1="350.80" y1="265.8" x2="350.80" y2="270.6" stroke="#000" stroke-width="1.1"/>
<text x="257.02" y="278.70" font-size="8.3" text-anchor="middle">1.25</text>
<text x="274.07" y="278.70" font-size="8.3" text-anchor="middle">2</text>
<text x="291.12" y="278.70" font-size="8.3" text-anchor="middle">3</text>
<text x="308.18" y="278.70" font-size="8.3" text-anchor="middle">4</text>
<text x="325.23" y="278.70" font-size="8.3" text-anchor="middle">5</text>
<text x="342.27" y="278.70" font-size="8.3" text-anchor="middle">6</text>
<line x1="257.02" y1="195.2" x2="257.02" y2="211.5" stroke="#000" stroke-width="1.1"/>
<line x1="254.02" y1="195.2" x2="260.02" y2="195.2" stroke="#000" stroke-width="1.1"/>
<line x1="254.02" y1="211.5" x2="260.02" y2="211.5" stroke="#000" stroke-width="1.1"/>
<line x1="274.07" y1="189.5" x2="274.07" y2="209.2" stroke="#000" stroke-width="1.1"/>
<line x1="271.07" y1="189.5" x2="277.07" y2="189.5" stroke="#000" stroke-width="1.1"/>
<line x1="271.07" y1="209.2" x2="277.07" y2="209.2" stroke="#000" stroke-width="1.1"/>
<line x1="291.12" y1="191.5" x2="291.12" y2="209.8" stroke="#000" stroke-width="1.1"/>
<line x1="288.12" y1="191.5" x2="294.12" y2="191.5" stroke="#000" stroke-width="1.1"/>
<line x1="288.12" y1="209.8" x2="294.12" y2="209.8" stroke="#000" stroke-width="1.1"/>
<line x1="308.18" y1="195.0" x2="308.18" y2="220.8" stroke="#000" stroke-width="1.1"/>
<line x1="305.18" y1="195.0" x2="311.18" y2="195.0" stroke="#000" stroke-width="1.1"/>
<line x1="305.18" y1="220.8" x2="311.18" y2="220.8" stroke="#000" stroke-width="1.1"/>
<line x1="325.23" y1="194.5" x2="325.23" y2="218.2" stroke="#000" stroke-width="1.1"/>
<line x1="322.23" y1="194.5" x2="328.23" y2="194.5" stroke="#000" stroke-width="1.1"/>
<line x1="322.23" y1="218.2" x2="328.23" y2="218.2" stroke="#000" stroke-width="1.1"/>
<line x1="342.27" y1="195.5" x2="342.27" y2="220.0" stroke="#000" stroke-width="1.1"/>
<line x1="339.27" y1="195.5" x2="345.27" y2="195.5" stroke="#000" stroke-width="1.1"/>
<line x1="339.27" y1="220.0" x2="345.27" y2="220.0" stroke="#000" stroke-width="1.1"/>
<line x1="274.07" y1="229.5" x2="274.07" y2="241.0" stroke="#000" stroke-width="1.1"/>
<line x1="271.07" y1="229.5" x2="277.07" y2="229.5" stroke="#000" stroke-width="1.1"/>
<line x1="271.07" y1="241.0" x2="277.07" y2="241.0" stroke="#000" stroke-width="1.1"/>
<line x1="291.12" y1="218.2" x2="291.12" y2="234.8" stroke="#000" stroke-width="1.1"/>
<line x1="288.12" y1="218.2" x2="294.12" y2="218.2" stroke="#000" stroke-width="1.1"/>
<line x1="288.12" y1="234.8" x2="294.12" y2="234.8" stroke="#000" stroke-width="1.1"/>
<line x1="308.18" y1="214.0" x2="308.18" y2="237.25" stroke="#000" stroke-width="1.1"/>
<line x1="305.18" y1="214.0" x2="311.18" y2="214.0" stroke="#000" stroke-width="1.1"/>
<line x1="305.18" y1="237.25" x2="311.18" y2="237.25" stroke="#000" stroke-width="1.1"/>
<line x1="325.23" y1="213.5" x2="325.23" y2="236.9" stroke="#000" stroke-width="1.1"/>
<line x1="322.23" y1="213.5" x2="328.23" y2="213.5" stroke="#000" stroke-width="1.1"/>
<line x1="322.23" y1="236.9" x2="328.23" y2="236.9" stroke="#000" stroke-width="1.1"/>
<line x1="342.27" y1="215.6" x2="342.27" y2="237.5" stroke="#000" stroke-width="1.1"/>
<line x1="339.27" y1="215.6" x2="345.27" y2="215.6" stroke="#000" stroke-width="1.1"/>
<line x1="339.27" y1="237.5" x2="345.27" y2="237.5" stroke="#000" stroke-width="1.1"/>
<polyline points="257.02,203.0 274.07,199.5 291.12,200.8 308.18,207.4 325.23,205.8 342.27,207.3" fill="none" stroke="#000" stroke-width="1.3"/>
<polyline points="257.02,239.4 274.07,234.8 291.12,226.8 308.18,225.6 325.23,225.0 342.27,226.3" fill="none" stroke="#000" stroke-width="1.3"/>
<circle cx="257.02" cy="203.0" r="3.00" fill="#000"/>
<circle cx="274.07" cy="199.5" r="3.00" fill="#000"/>
<circle cx="291.12" cy="200.8" r="3.00" fill="#000"/>
<circle cx="308.18" cy="207.4" r="3.00" fill="#000"/>
<circle cx="325.23" cy="205.8" r="3.00" fill="#000"/>
<circle cx="342.27" cy="207.3" r="3.00" fill="#000"/>
<rect x="254.02" y="236.40" width="6.0" height="6.0" fill="#000"/>
<rect x="271.07" y="231.80" width="6.0" height="6.0" fill="#000"/>
<rect x="288.12" y="223.80" width="6.0" height="6.0" fill="#000"/>
<rect x="305.18" y="222.60" width="6.0" height="6.0" fill="#000"/>
<rect x="322.23" y="222.00" width="6.0" height="6.0" fill="#000"/>
<rect x="339.27" y="223.30" width="6.0" height="6.0" fill="#000"/>
<rect x="416.0" y="167.5" width="102.0" height="99.0" fill="none" stroke="#000" stroke-width="1.3"/>
<line x1="411.50" y1="266.30" x2="416.0" y2="266.30" stroke="#000" stroke-width="1"/>
<text x="410.00" y="268.70" font-size="8.3" text-anchor="end">0</text>
<line x1="413.50" y1="263.82" x2="416.0" y2="263.82" stroke="#000" stroke-width="1"/>
<line x1="413.50" y1="261.34" x2="416.0" y2="261.34" stroke="#000" stroke-width="1"/>
<line x1="413.50" y1="258.85" x2="416.0" y2="258.85" stroke="#000" stroke-width="1"/>
<line x1="413.50" y1="256.37" x2="416.0" y2="256.37" stroke="#000" stroke-width="1"/>
<line x1="411.50" y1="253.89" x2="416.0" y2="253.89" stroke="#000" stroke-width="1"/>
<text x="410.00" y="256.29" font-size="8.3" text-anchor="end">5</text>
<line x1="413.50" y1="251.41" x2="416.0" y2="251.41" stroke="#000" stroke-width="1"/>
<line x1="413.50" y1="248.92" x2="416.0" y2="248.92" stroke="#000" stroke-width="1"/>
<line x1="413.50" y1="246.44" x2="416.0" y2="246.44" stroke="#000" stroke-width="1"/>
<line x1="413.50" y1="243.96" x2="416.0" y2="243.96" stroke="#000" stroke-width="1"/>
<line x1="411.50" y1="241.48" x2="416.0" y2="241.48" stroke="#000" stroke-width="1"/>
<text x="410.00" y="243.88" font-size="8.3" text-anchor="end">10</text>
<line x1="413.50" y1="238.99" x2="416.0" y2="238.99" stroke="#000" stroke-width="1"/>
<line x1="413.50" y1="236.51" x2="416.0" y2="236.51" stroke="#000" stroke-width="1"/>
<line x1="413.50" y1="234.03" x2="416.0" y2="234.03" stroke="#000" stroke-width="1"/>
<line x1="413.50" y1="231.55" x2="416.0" y2="231.55" stroke="#000" stroke-width="1"/>
<line x1="411.50" y1="229.06" x2="416.0" y2="229.06" stroke="#000" stroke-width="1"/>
<text x="410.00" y="231.46" font-size="8.3" text-anchor="end">15</text>
<line x1="413.50" y1="226.58" x2="416.0" y2="226.58" stroke="#000" stroke-width="1"/>
<line x1="413.50" y1="224.10" x2="416.0" y2="224.10" stroke="#000" stroke-width="1"/>
<line x1="413.50" y1="221.62" x2="416.0" y2="221.62" stroke="#000" stroke-width="1"/>
<line x1="413.50" y1="219.13" x2="416.0" y2="219.13" stroke="#000" stroke-width="1"/>
<line x1="411.50" y1="216.65" x2="416.0" y2="216.65" stroke="#000" stroke-width="1"/>
<text x="410.00" y="219.05" font-size="8.3" text-anchor="end">20</text>
<line x1="413.50" y1="214.17" x2="416.0" y2="214.17" stroke="#000" stroke-width="1"/>
<line x1="413.50" y1="211.69" x2="416.0" y2="211.69" stroke="#000" stroke-width="1"/>
<line x1="413.50" y1="209.20" x2="416.0" y2="209.20" stroke="#000" stroke-width="1"/>
<line x1="413.50" y1="206.72" x2="416.0" y2="206.72" stroke="#000" stroke-width="1"/>
<line x1="411.50" y1="204.24" x2="416.0" y2="204.24" stroke="#000" stroke-width="1"/>
<text x="410.00" y="206.64" font-size="8.3" text-anchor="end">25</text>
<line x1="413.50" y1="201.75" x2="416.0" y2="201.75" stroke="#000" stroke-width="1"/>
<line x1="413.50" y1="199.27" x2="416.0" y2="199.27" stroke="#000" stroke-width="1"/>
<line x1="413.50" y1="196.79" x2="416.0" y2="196.79" stroke="#000" stroke-width="1"/>
<line x1="413.50" y1="194.31" x2="416.0" y2="194.31" stroke="#000" stroke-width="1"/>
<line x1="411.50" y1="191.83" x2="416.0" y2="191.83" stroke="#000" stroke-width="1"/>
<text x="410.00" y="194.23" font-size="8.3" text-anchor="end">30</text>
<line x1="413.50" y1="189.34" x2="416.0" y2="189.34" stroke="#000" stroke-width="1"/>
<line x1="413.50" y1="186.86" x2="416.0" y2="186.86" stroke="#000" stroke-width="1"/>
<line x1="413.50" y1="184.38" x2="416.0" y2="184.38" stroke="#000" stroke-width="1"/>
<line x1="413.50" y1="181.90" x2="416.0" y2="181.90" stroke="#000" stroke-width="1"/>
<line x1="411.50" y1="179.41" x2="416.0" y2="179.41" stroke="#000" stroke-width="1"/>
<text x="410.00" y="181.81" font-size="8.3" text-anchor="end">35</text>
<line x1="413.50" y1="176.93" x2="416.0" y2="176.93" stroke="#000" stroke-width="1"/>
<line x1="413.50" y1="174.45" x2="416.0" y2="174.45" stroke="#000" stroke-width="1"/>
<line x1="413.50" y1="171.97" x2="416.0" y2="171.97" stroke="#000" stroke-width="1"/>
<line x1="413.50" y1="169.48" x2="416.0" y2="169.48" stroke="#000" stroke-width="1"/>
<line x1="411.50" y1="167.00" x2="416.0" y2="167.00" stroke="#000" stroke-width="1"/>
<text x="410.00" y="169.40" font-size="8.3" text-anchor="end">40</text>
<line x1="416.00" y1="266.5" x2="416.00" y2="271.3" stroke="#000" stroke-width="1.1"/>
<line x1="433.00" y1="266.5" x2="433.00" y2="271.3" stroke="#000" stroke-width="1.1"/>
<line x1="450.00" y1="266.5" x2="450.00" y2="271.3" stroke="#000" stroke-width="1.1"/>
<line x1="467.00" y1="266.5" x2="467.00" y2="271.3" stroke="#000" stroke-width="1.1"/>
<line x1="484.00" y1="266.5" x2="484.00" y2="271.3" stroke="#000" stroke-width="1.1"/>
<line x1="501.00" y1="266.5" x2="501.00" y2="271.3" stroke="#000" stroke-width="1.1"/>
<line x1="518.00" y1="266.5" x2="518.00" y2="271.3" stroke="#000" stroke-width="1.1"/>
<text x="424.50" y="279.40" font-size="8.3" text-anchor="middle">1.25</text>
<text x="441.50" y="279.40" font-size="8.3" text-anchor="middle">2</text>
<text x="458.50" y="279.40" font-size="8.3" text-anchor="middle">3</text>
<text x="475.50" y="279.40" font-size="8.3" text-anchor="middle">4</text>
<text x="492.50" y="279.40" font-size="8.3" text-anchor="middle">5</text>
<text x="509.50" y="279.40" font-size="8.3" text-anchor="middle">6</text>
<line x1="424.50" y1="232.75" x2="424.50" y2="241.0" stroke="#000" stroke-width="1.1"/>
<line x1="421.50" y1="232.75" x2="427.50" y2="232.75" stroke="#000" stroke-width="1.1"/>
<line x1="421.50" y1="241.0" x2="427.50" y2="241.0" stroke="#000" stroke-width="1.1"/>
<line x1="441.50" y1="242.5" x2="441.50" y2="250.4" stroke="#000" stroke-width="1.1"/>
<line x1="438.50" y1="242.5" x2="444.50" y2="242.5" stroke="#000" stroke-width="1.1"/>
<line x1="438.50" y1="250.4" x2="444.50" y2="250.4" stroke="#000" stroke-width="1.1"/>
<line x1="458.50" y1="245.4" x2="458.50" y2="255.0" stroke="#000" stroke-width="1.1"/>
<line x1="455.50" y1="245.4" x2="461.50" y2="245.4" stroke="#000" stroke-width="1.1"/>
<line x1="455.50" y1="255.0" x2="461.50" y2="255.0" stroke="#000" stroke-width="1.1"/>
<line x1="475.50" y1="250.0" x2="475.50" y2="254.4" stroke="#000" stroke-width="1.1"/>
<line x1="472.50" y1="250.0" x2="478.50" y2="250.0" stroke="#000" stroke-width="1.1"/>
<line x1="472.50" y1="254.4" x2="478.50" y2="254.4" stroke="#000" stroke-width="1.1"/>
<line x1="492.50" y1="254.0" x2="492.50" y2="258.5" stroke="#000" stroke-width="1.1"/>
<line x1="489.50" y1="254.0" x2="495.50" y2="254.0" stroke="#000" stroke-width="1.1"/>
<line x1="489.50" y1="258.5" x2="495.50" y2="258.5" stroke="#000" stroke-width="1.1"/>
<line x1="509.50" y1="243.1" x2="509.50" y2="255.25" stroke="#000" stroke-width="1.1"/>
<line x1="506.50" y1="243.1" x2="512.50" y2="243.1" stroke="#000" stroke-width="1.1"/>
<line x1="506.50" y1="255.25" x2="512.50" y2="255.25" stroke="#000" stroke-width="1.1"/>
<polyline points="424.50,236.9 441.50,246.5 458.50,250.3 475.50,252.0 492.50,256.25 509.50,248.75" fill="none" stroke="#000" stroke-width="1.3"/>
<polyline points="424.50,263.5 441.50,266.3 458.50,262.1 475.50,263.5 492.50,265.6 509.50,263.5" fill="none" stroke="#000" stroke-width="1.3"/>
<circle cx="424.50" cy="236.9" r="3.00" fill="#000"/>
<circle cx="441.50" cy="246.5" r="3.00" fill="#000"/>
<circle cx="458.50" cy="250.3" r="3.00" fill="#000"/>
<circle cx="475.50" cy="252.0" r="3.00" fill="#000"/>
<circle cx="492.50" cy="256.25" r="3.00" fill="#000"/>
<circle cx="509.50" cy="248.75" r="3.00" fill="#000"/>
<rect x="421.50" y="260.50" width="6.0" height="6.0" fill="#000"/>
<rect x="438.50" y="263.30" width="6.0" height="6.0" fill="#000"/>
<rect x="455.50" y="259.10" width="6.0" height="6.0" fill="#000"/>
<rect x="472.50" y="260.50" width="6.0" height="6.0" fill="#000"/>
<rect x="489.50" y="262.60" width="6.0" height="6.0" fill="#000"/>
<rect x="506.50" y="260.50" width="6.0" height="6.0" fill="#000"/>
<text x="96.5" y="7.2" font-size="8.75">Non-cultured cells</text>
<text x="254.9" y="9.2" font-size="8.75">7 day cultured cells</text>
<text x="424.9" y="7.8" font-size="8.75">14 day cultured cells</text>
<text x="42.5" y="18.9" font-size="16.8" font-weight="bold">A</text>
<text x="211.9" y="18.8" font-size="16.8" font-weight="bold">B</text>
<text x="378.0" y="19" font-size="16.8" font-weight="bold">C</text>
<text x="41.6" y="167.4" font-size="16.8" font-weight="bold">D</text>
<text x="213.0" y="167.4" font-size="16.8" font-weight="bold">E</text>
<text x="379.0" y="167.4" font-size="16.8" font-weight="bold">F</text>
<text x="0.9" y="62.7" font-size="8.7">Exp. 1</text>
<text x="0.7" y="215.5" font-size="8.8">Exp. 2</text>
<text transform="translate(57.9,102.4) rotate(-90)" font-size="8.85">Percent donor cells</text>
<text transform="translate(57.9,254.4) rotate(-90)" font-size="8.85">Percent donor cells</text>
<text x="235.8" y="305" font-size="8.8">Time post-transplant (months)</text>
</svg>
</body></html>
